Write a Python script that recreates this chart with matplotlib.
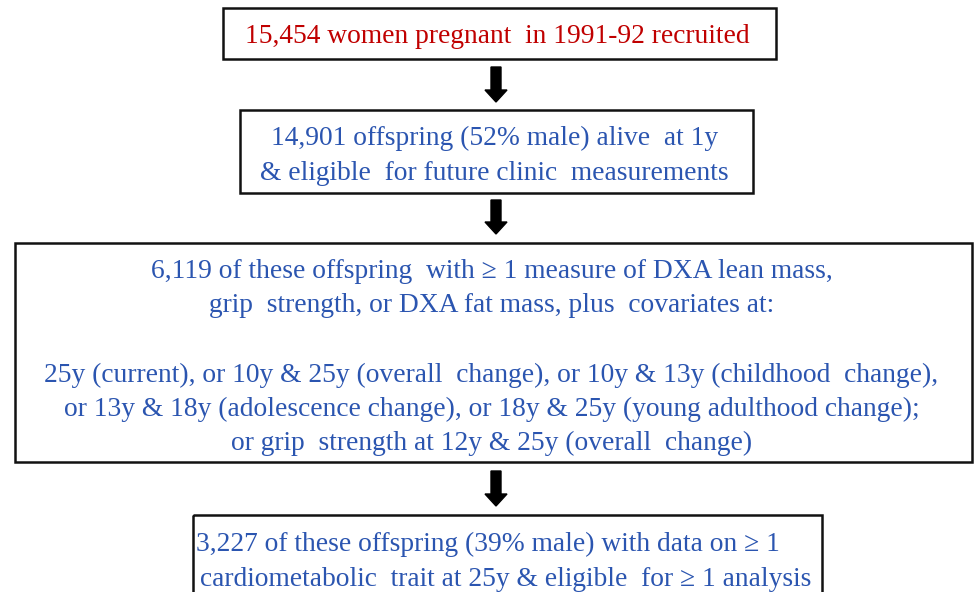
import matplotlib.pyplot as plt
from matplotlib import patches

# flowchart content
box_lines = [
    ["15,454 women pregnant  in 1991-92 recruited"],
    ["14,901 offspring (52% male) alive  at 1y",
     "& eligible  for future clinic  measurements"],
    ["6,119 of these offspring  with \u2265 1 measure of DXA lean mass,",
     "grip  strength, or DXA fat mass, plus  covariates at:",
     "",
     "25y (current), or 10y & 25y (overall  change), or 10y & 13y (childhood  change),",
     "or 13y & 18y (adolescence change), or 18y & 25y (young adulthood change);",
     "or grip  strength at 12y & 25y (overall  change)"],
    ["3,227 of these offspring (39% male) with data on \u2265 1     ",
     "cardiometabolic  trait at 25y & eligible  for \u2265 1 analysis"],
]
box_colors = ["#C00000", "#2B55B0", "#2B55B0", "#2B55B0"]

# layout (pixels)
boxes = [(223, 8, 776, 59), (240, 110, 753, 193), (15, 243, 972, 462), (193, 515, 822, 620)]
first_baseline = [43, 145, 278, 551]
line_step = 34.5
arrows = [(496, 67, 102), (496, 200, 234), (496, 471, 506)]

fig = plt.figure(figsize=(9.74, 5.92), dpi=100)
ax = fig.add_axes([0, 0, 1, 1])
ax.set_xlim(0, 974)
ax.set_ylim(592, 0)
ax.axis('off')

for (x0, y0, x1, y1), lines, col, ly in zip(boxes, box_lines, box_colors, first_baseline):
    ax.add_patch(patches.Rectangle((x0, y0), x1 - x0, y1 - y0, fill=False,
                                   edgecolor='#111111', linewidth=1.8))
    xc = (x0 + x1) / 2
    for i, t in enumerate(lines):
        ax.text(xc - 2, ly + i * line_step, t, color=col, fontsize=19.8,
                family='Liberation Serif', ha='center', va='baseline')

for x, ya, yb in arrows:
    ax.add_patch(patches.FancyArrow(x, ya, 0, yb - ya, width=10, head_width=22,
                                    head_length=12, length_includes_head=True,
                                    color='black'))

fig.savefig('out.png', dpi=100)
